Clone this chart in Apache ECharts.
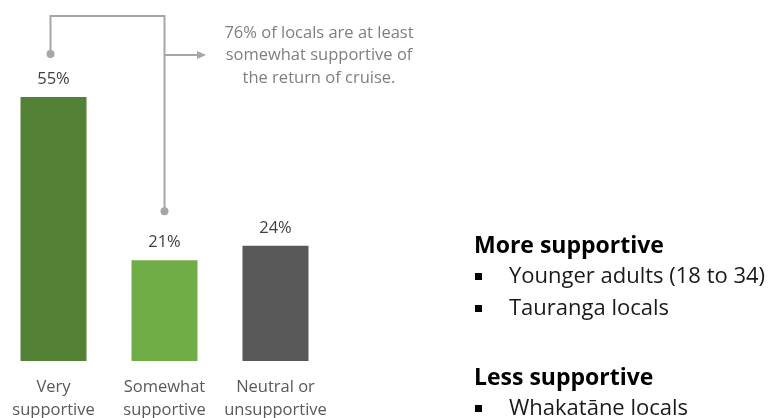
<!DOCTYPE html>
<html><head><meta charset="utf-8">
<script src="https://cdn.jsdelivr.net/npm/echarts@6/dist/echarts.min.js"></script>
<style>html,body{margin:0;padding:0;background:#fff}#c{width:769px;height:418px}</style>
</head><body><div id="c"></div>
<script>
var categories = ['Very\nsupportive', 'Somewhat\nsupportive', 'Neutral or\nunsupportive'];
var values = [55, 21, 24];
var barColors = ['#538135', '#70ad47', '#595959'];
var noteLines = ['76% of locals are at least', 'somewhat supportive of', 'the return of cruise.'];
var moreTitle = 'More supportive';
var moreItems = ['Younger adults (18 to 34)', 'Tauranga locals'];
var lessTitle = 'Less supportive';
var lessItems = ['Whakatāne locals'];

var FONT = '"Open Sans", sans-serif';
var chart = echarts.init(document.getElementById('c'));
var option = {
  animation: false,
  grid: {left: -2, top: 73, width: 333, height: 288, containLabel: false, outerBoundsMode: 'none'},
  xAxis: {
    type: 'category', data: categories,
    axisLine: {show: false}, axisTick: {show: false},
    axisLabel: {color: '#595959', fontSize: 16.5, fontFamily: FONT, lineHeight: 23, margin: 15, interval: 0}
  },
  yAxis: {type: 'value', min: 0, max: 60, show: false, splitLine: {show: false}},
  series: [{
    type: 'bar', barWidth: 66,
    data: values.map(function (v, i) { return {value: v, itemStyle: {color: barColors[i]}}; }),
    label: {show: true, position: 'top', distance: 9, color: '#404040', fontSize: 16.5, fontFamily: FONT,
      formatter: function (p) { return p.value + '%'; }}
  }]
};
chart.setOption(option);

var p1 = chart.convertToPixel({gridIndex: 0}, [0, values[0]]);
var p2 = chart.convertToPixel({gridIndex: 0}, [1, values[1]]);
var x1 = p1[0] - 3, y1 = p1[1] - 43;
var x2 = p2[0], y2 = p2[1] - 49;
var topY = 16, arrowY = 55, arrowEnd = 206;
var lineStyle = {stroke: '#a6a6a6', lineWidth: 2, fill: null};
var g = [
  {type: 'polyline', shape: {points: [[x1, y1], [x1, topY], [x2, topY], [x2, y2]]}, style: lineStyle, silent: true},
  {type: 'circle', shape: {cx: x1, cy: y1, r: 4}, style: {fill: '#a6a6a6'}},
  {type: 'circle', shape: {cx: x2, cy: y2, r: 4}, style: {fill: '#a6a6a6'}},
  {type: 'line', shape: {x1: x2, y1: arrowY, x2: arrowEnd - 7, y2: arrowY}, style: {stroke: '#a6a6a6', lineWidth: 2}},
  {type: 'polygon', shape: {points: [[arrowEnd, arrowY], [arrowEnd - 9, arrowY - 4], [arrowEnd - 9, arrowY + 4]]}, style: {fill: '#a6a6a6'}}
];
noteLines.forEach(function (t, i) {
  g.push({type: 'text', x: 319, y: 33 + i * 22.5, style: {text: t, fill: '#7f7f7f', font: '16.5px ' + FONT, align: 'center', verticalAlign: 'middle'}});
});
function block(title, items, y0) {
  g.push({type: 'text', x: 474, y: y0, style: {text: title, fill: '#000', font: 'bold 23px ' + FONT, verticalAlign: 'middle'}});
  items.forEach(function (t, i) {
    var y = y0 + 31 + i * 32;
    g.push({type: 'rect', shape: {x: 475, y: y - 4, width: 7, height: 7}, style: {fill: '#000'}});
    g.push({type: 'text', x: 509, y: y, style: {text: t, fill: '#1a1a1a', font: '22px ' + FONT, verticalAlign: 'middle'}});
  });
}
block(moreTitle, moreItems, 246);
block(lessTitle, lessItems, 378);
chart.setOption({graphic: g});
</script></body></html>
